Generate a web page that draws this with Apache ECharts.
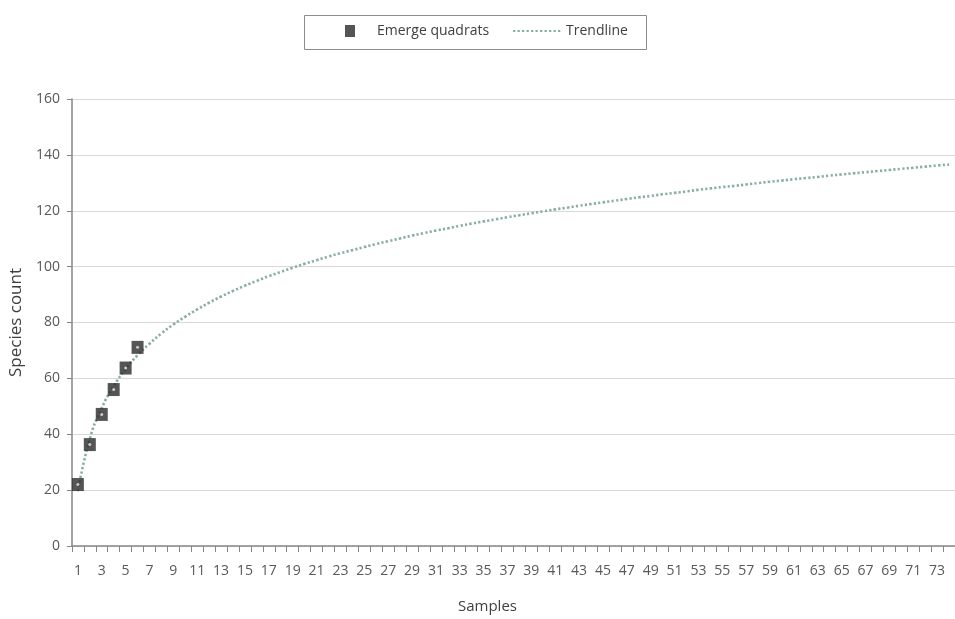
<!DOCTYPE html>
<html>
<head>
<meta charset="utf-8">
<script src="https://cdn.jsdelivr.net/npm/echarts@6/dist/echarts.min.js"></script>
<style>
  html, body { margin: 0; padding: 0; background: #fff; }
  #chart { width: 955px; height: 619px; }
</style>
</head>
<body>
<div id="chart"></div>
<script>
// Sample numbers along the x axis (1..74)
const samples = ['1','2','3','4','5','6','7','8','9','10','11','12','13','14','15','16','17','18','19','20',
  '21','22','23','24','25','26','27','28','29','30','31','32','33','34','35','36','37','38','39','40',
  '41','42','43','44','45','46','47','48','49','50','51','52','53','54','55','56','57','58','59','60',
  '61','62','63','64','65','66','67','68','69','70','71','72','73','74'];

// Observed species counts for the emerged quadrats
const emergeQuadrats = [22.0, 36.3, 47.1, 56.0, 63.7, 71.1];

// Trendline values at each sample
const trendline = [19.6, 38.4, 49.4, 57.2, 63.3, 68.3, 72.4, 76.1, 79.3, 82.1,
  84.7, 87.1, 89.3, 91.3, 93.2, 94.9, 96.6, 98.1, 99.6, 101.0,
  102.3, 103.6, 104.8, 105.9, 107.0, 108.1, 109.1, 110.1, 111.1, 112.0,
  112.9, 113.7, 114.6, 115.4, 116.2, 116.9, 117.7, 118.4, 119.1, 119.8,
  120.5, 121.1, 121.8, 122.4, 123.0, 123.6, 124.2, 124.8, 125.3, 125.9,
  126.4, 126.9, 127.5, 128.0, 128.5, 128.9, 129.4, 129.9, 130.4, 130.8,
  131.3, 131.7, 132.1, 132.6, 133.0, 133.4, 133.8, 134.2, 134.6, 135.0,
  135.4, 135.8, 136.2, 136.5];

const yTicks = { min: 0, max: 160, step: 20 };

const chart = echarts.init(document.getElementById('chart'), null, { renderer: 'canvas' });

const labelFont = '"Open Sans", "Noto Sans", sans-serif';
const axisGray = '#868686';
const trendColor = '#8aaea3';
const markerColor = '#2b2b2b';
const legendText = { fontFamily: labelFont, fontSize: 14, color: '#404040' };

chart.setOption({
  animation: false,
  backgroundColor: '#ffffff',
  // framed legend box shared by both legend entries
  graphic: [{
    type: 'rect',
    left: 302,
    top: 13,
    shape: { width: 342, height: 34 },
    style: { fill: 'none', stroke: '#8c8c8c', lineWidth: 1 },
    silent: true
  }],
  legend: [
    {
      left: 345,
      top: 24,
      padding: 0,
      itemWidth: 10,
      itemHeight: 12,
      textStyle: Object.assign({ padding: [0, 0, 0, 17] }, legendText),
      data: [{ name: 'Emerge quadrats', icon: 'rect', itemStyle: { color: markerColor } }]
    },
    {
      left: 512,
      top: 24,
      padding: 0,
      itemWidth: 48,
      itemHeight: 12,
      textStyle: legendText,
      data: [{ name: 'Trendline', itemStyle: { opacity: 0 } }]
    }
  ],
  grid: { left: 71, top: 99, bottom: 72, right: -6, containLabel: false },
  xAxis: {
    type: 'category',
    data: samples,
    boundaryGap: true,
    name: 'Samples',
    nameLocation: 'middle',
    nameGap: 53,
    nameTextStyle: { fontFamily: labelFont, fontSize: 15, color: '#404040', padding: [0, 52, 0, 0] },
    axisLine: { lineStyle: { color: axisGray, width: 1.5 } },
    axisTick: { show: true, interval: 0, length: 6, lineStyle: { color: axisGray } },
    axisLabel: { interval: 1, margin: 18, fontFamily: labelFont, fontSize: 14, color: '#595959' },
    splitLine: { show: false }
  },
  yAxis: {
    type: 'value',
    min: yTicks.min,
    max: yTicks.max,
    interval: yTicks.step,
    name: 'Species count',
    nameLocation: 'middle',
    nameGap: 46,
    nameTextStyle: { fontFamily: labelFont, fontSize: 17, color: '#404040' },
    axisLine: { show: true, lineStyle: { color: axisGray, width: 1.5 } },
    axisTick: { show: true, length: 5, lineStyle: { color: axisGray } },
    axisLabel: { margin: 12, fontFamily: labelFont, fontSize: 14, color: '#595959' },
    splitLine: { lineStyle: { color: '#d9d9d9', width: 1.2 } }
  },
  series: [
    {
      name: 'Trendline',
      type: 'line',
      data: trendline,
      smooth: true,
      symbol: 'none',
      z: 2,
      lineStyle: { color: trendColor, width: 2.6, type: [2.3, 2.2], cap: 'butt' },
      itemStyle: { color: trendColor }
    },
    {
      name: 'Emerge quadrats',
      type: 'scatter',
      data: emergeQuadrats,
      symbol: 'rect',
      symbolSize: [12, 13],
      z: 3,
      itemStyle: { color: markerColor }
    },
    {
      // small light centre dot inside each quadrat marker
      name: 'quadrat centre',
      type: 'scatter',
      data: emergeQuadrats,
      symbol: 'circle',
      symbolSize: 3,
      z: 4,
      silent: true,
      itemStyle: { color: '#e6e6e6' }
    }
  ]
});
</script>
</body>
</html>
